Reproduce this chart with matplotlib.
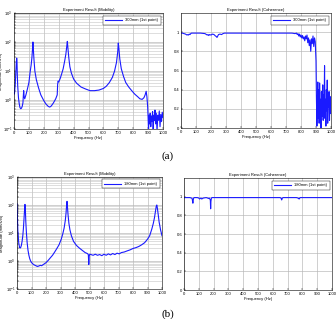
import numpy as np
import matplotlib
matplotlib.use('Agg')
import matplotlib.pyplot as plt
from matplotlib.ticker import LogLocator, FixedLocator

# (a) 300mm, mobility
freq_a_mob = [0, 3, 6, 9, 12, 15, 18, 20, 22, 25,
              30, 35, 40, 45, 50, 55, 60, 63, 65, 68,
              72, 80, 90, 100, 108, 115, 120, 124, 127, 130,
              134, 140, 150, 165, 180, 200, 215, 230, 240, 250,
              265, 280, 290, 293, 296, 300, 310, 320, 330, 340,
              348, 354, 358, 362, 368, 375, 385, 400, 420, 450,
              480, 510, 540, 570, 600, 620, 640, 660, 675, 688,
              696, 700, 704, 710, 720, 735, 750, 770, 790, 810,
              830, 845, 860, 872, 880, 887, 892, 897, 900, 903,
              906, 910, 914, 918, 922, 926, 930, 934, 938, 942,
              946, 950, 955, 960, 965, 970, 975, 980, 985, 990,
              995, 1000]
mob_a = [1.8, 1.6, 2.5, 4, 8, 18, 28, 22, 8, 3,
         1.2, 0.75, 0.55, 0.5, 0.52, 0.6, 0.8, 1.5, 2.1, 1.3,
         1.1, 1.5, 2.4, 4, 9, 16, 28, 55, 100, 55,
         25, 10, 5, 2.6, 1.5, 0.95, 0.72, 0.6, 0.57, 0.62,
         0.8, 1.1, 1.5, 3.5, 4.5, 4.2, 5.5, 8, 12, 22,
         38, 70, 105, 60, 28, 14, 8.5, 5.3, 3.8, 2.8,
         2.4, 2.1, 2.1, 2.2, 2.5, 3.0, 4.0, 6, 10, 20,
         45, 92, 60, 26, 12, 6.5, 4.0, 2.8, 2.1, 1.6,
         1.3, 1.1, 1.05, 1.2, 1.5, 2.0, 1.3, 0.6, 0.25, 0.08,
         0.3, 0.15, 0.35, 0.12, 0.28, 0.18, 0.4, 0.09, 0.3, 0.2,
         0.45, 0.15, 0.35, 0.08, 0.3, 0.2, 0.42, 0.12, 0.32, 0.18,
         0.38, 0.25]

# (a) 300mm, coherence
freq_a_coh = [0, 10, 20, 30, 40, 45, 50, 55, 60, 65,
              70, 80, 100, 130, 160, 175, 180, 185, 190, 200,
              210, 220, 230, 235, 240, 245, 250, 260, 270, 280,
              290, 300, 350, 400, 500, 600, 700, 740, 760, 770,
              775, 780, 785, 790, 795, 800, 805, 810, 815, 820,
              825, 830, 835, 840, 845, 850, 855, 860, 865, 870,
              875, 880, 885, 890, 895, 900, 903, 906, 909, 912,
              915, 918, 921, 924, 927, 930, 933, 936, 939, 942,
              945, 948, 951, 954, 957, 960, 963, 966, 969, 972,
              975, 978, 981, 984, 987, 990, 993, 996, 1000]
coh_a = [0.99, 0.99, 0.985, 0.98, 0.97, 0.975, 0.97, 0.98, 0.975, 0.985,
         0.99, 0.99, 0.99, 0.99, 0.985, 0.97, 0.975, 0.965, 0.975, 0.97,
         0.98, 0.975, 0.96, 0.955, 0.945, 0.96, 0.975, 0.98, 0.975, 0.985,
         0.99, 0.99, 0.99, 0.99, 0.99, 0.99, 0.99, 0.99, 0.985, 0.99,
         0.975, 0.985, 0.96, 0.98, 0.95, 0.97, 0.94, 0.965, 0.93, 0.95,
         0.91, 0.96, 0.93, 0.97, 0.89, 0.94, 0.86, 0.92, 0.80, 0.93,
         0.88, 0.96, 0.85, 0.94, 0.90, 0.70, 0.30, 0.02, 0.25, 0.48,
         0.10, 0.40, 0.05, 0.47, 0.15, 0.30, 0.0, 0.38, 0.12, 0.25,
         0.45, 0.08, 0.35, 0.2, 0.65, 0.1, 0.3, 0.02, 0.4, 0.18,
         0.5, 0.05, 0.3, 0.22, 0.38, 0.08, 0.33, 0.15, 0.25]

# (b) 180mm, mobility
freq_b_mob = [0, 2, 4, 6, 9, 12, 15, 18, 21, 25,
              30, 35, 40, 44, 48, 52, 55, 58, 61, 65,
              70, 76, 82, 88, 94, 100, 110, 120, 130, 140,
              150, 160, 170, 180, 190, 200, 215, 230, 245, 260,
              275, 290, 305, 315, 325, 333, 338, 342, 345, 348,
              352, 358, 365, 375, 390, 410, 430, 450, 470, 485,
              492, 495, 498, 502, 510, 525, 540, 555, 570, 585,
              600, 615, 630, 645, 660, 675, 690, 705, 720, 740,
              760, 780, 800, 820, 840, 860, 880, 900, 915, 930,
              940, 948, 955, 960, 964, 968, 974, 980, 990, 1000]
mob_b = [110, 60, 25, 12, 7, 4.5, 3.6, 3.0, 2.9, 3.0,
         3.6, 5, 8, 14, 30, 65, 105, 60, 24, 10,
         4.5, 2.4, 1.6, 1.2, 1.0, 0.88, 0.78, 0.72, 0.68, 0.64,
         0.66, 0.7, 0.68, 0.74, 0.8, 0.87, 1.05, 1.3, 1.6, 2.1,
         2.8, 3.8, 6, 9, 15, 28, 50, 95, 135, 85,
         45, 22, 13, 8, 5, 3.6, 2.9, 2.4, 2.0, 1.85,
         1.7, 0.75, 1.5, 1.75, 1.7, 1.6, 1.75, 1.6, 1.7, 1.55,
         1.75, 1.6, 1.8, 1.65, 1.85, 1.7, 1.9, 1.8, 2.0, 2.1,
         2.3, 2.5, 2.8, 3.0, 3.3, 3.8, 4.5, 6, 8, 14,
         22, 35, 60, 88, 100, 78, 45, 25, 13, 8]

# (b) 180mm, coherence
freq_b_coh = [0, 20, 40, 50, 55, 58, 60, 62, 65, 70,
              90, 100, 105, 110, 115, 120, 130, 150, 160, 165,
              170, 175, 178, 180, 182, 185, 190, 200, 300, 400,
              500, 600, 650, 655, 658, 660, 662, 665, 670, 700,
              760, 770, 775, 778, 780, 782, 785, 790, 850, 900,
              1000]
coh_b = [0.99, 0.99, 0.99, 0.985, 0.98, 0.95, 0.93, 0.96, 0.985, 0.99,
         0.99, 0.985, 0.975, 0.98, 0.985, 0.975, 0.985, 0.99, 0.985, 0.98,
         0.985, 0.975, 0.96, 0.87, 0.95, 0.985, 0.99, 0.99, 0.99, 0.99,
         0.99, 0.99, 0.99, 0.985, 0.975, 0.965, 0.975, 0.985, 0.99, 0.99,
         0.99, 0.985, 0.98, 0.975, 0.98, 0.985, 0.99, 0.99, 0.99, 0.99,
         0.99]

freq_ticks = [0, 100, 200, 300, 400, 500, 600, 700, 800, 900, 1000]
coh_ticks = [0, 0.2, 0.4, 0.6, 0.8, 1]
coh_tick_labels = ['0', '0.2', '0.4', '0.6', '0.8', '1']
mob_ticks = [0.1, 1, 10, 100, 1000]
mob_tick_labels = ['$10^{-1}$', '$10^{0}$', '$10^{1}$', '$10^{2}$', '$10^{3}$']

plt.rcParams['font.family'] = ['Liberation Sans', 'DejaVu Sans']
plt.rcParams['mathtext.fontset'] = 'custom'
plt.rcParams['mathtext.rm'] = 'Liberation Sans'
plt.rcParams['mathtext.it'] = 'Liberation Sans'

LINE = '#1a1aff'
FS = 3.0
W, H = 336, 319


def style_axes(ax, title):
    ax.set_title(title, fontsize=FS, pad=1.5)
    ax.set_xlim(0, 1000)
    ax.xaxis.set_major_locator(FixedLocator(freq_ticks))
    ax.set_xlabel('Frequency (Hz)', fontsize=FS, labelpad=1)
    ax.tick_params(axis='both', which='both', direction='in', labelsize=FS,
                   length=1.2, width=0.3, pad=1.2)
    ax.grid(True, which='major', color='#b5b5b5', lw=0.45, ls='-')
    for s in ax.spines.values():
        s.set_linewidth(0.4)


def add_legend(ax):
    leg = ax.legend(loc='upper right', fontsize=FS, frameon=True, fancybox=False,
                    edgecolor='black', framealpha=1, handlelength=4,
                    borderpad=0.6, borderaxespad=0.6)
    leg.get_frame().set_linewidth(0.3)


def mobility_panel(ax, f, v, label, label_x):
    ax.plot(f, v, color=LINE, lw=0.8, label=label)
    ax.set_yscale('log')
    ax.set_ylim(0.1, 1000)
    ax.set_yticks(mob_ticks)
    ax.set_yticklabels(mob_tick_labels)
    ax.yaxis.set_minor_locator(LogLocator(base=10, subs=np.arange(2, 10)))
    ax.yaxis.set_minor_formatter(plt.NullFormatter())
    style_axes(ax, 'Experiment Result (Mobility)')
    ax.grid(True, which='minor', axis='y', color='#c4c4c4', lw=0.4, ls='-')
    ax.set_ylabel('Magnitude (mm/s/N)', fontsize=FS)
    ax.yaxis.set_label_coords(label_x, 0.5)
    add_legend(ax)


def coherence_panel(ax, f, v, label):
    ax.plot(f, v, color=LINE, lw=0.8, label=label)
    ax.set_ylim(0, 1.2)
    ax.set_yticks(coh_ticks)
    ax.set_yticklabels(coh_tick_labels)
    style_axes(ax, 'Experiment Result (Coherence)')
    add_legend(ax)


fig = plt.figure(figsize=(W / 100, H / 100), dpi=100)


def box(x0, y0, x1, y1):
    return [x0 / W, 1 - y1 / H, (x1 - x0) / W, (y1 - y0) / H]


ax1 = fig.add_axes(box(14, 13, 163, 129))
ax2 = fig.add_axes(box(181, 13, 331, 128))
ax3 = fig.add_axes(box(17, 177, 162, 289))
ax4 = fig.add_axes(box(184, 178, 332, 290))

mobility_panel(ax1, freq_a_mob, mob_a, '300mm (1st point)', (3.5 - 14) / 149)
coherence_panel(ax2, freq_a_coh, coh_a, '300mm (1st point)')
mobility_panel(ax3, freq_b_mob, mob_b, '180mm (1st point)', (4 - 17) / 145)
coherence_panel(ax4, freq_b_coh, coh_b, '180mm (1st point)')

fig.text(168 / W, 1 - 156 / H, '(a)', fontsize=8, family='Liberation Serif',
         ha='center', va='center')
fig.text(168 / W, 1 - 314 / H, '(b)', fontsize=8, family='Liberation Serif',
         ha='center', va='center')

fig.savefig('out.png', dpi=100)
